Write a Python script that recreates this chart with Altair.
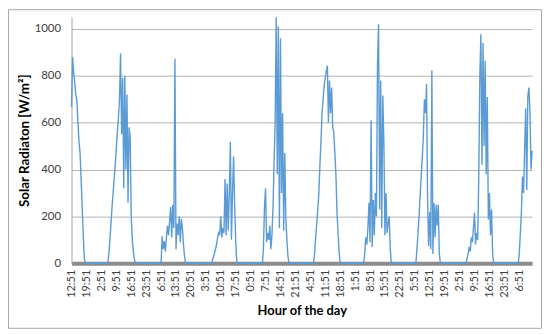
import altair as alt
import pandas as pd

# Half-hour sampled daytime segments; between segments the series stays at 0.
STEP = 0.5  # hours between samples inside a segment
day_starts = [0, 17, 42, 65.5, 89.5, 113.5, 137, 161.5, 185, 209.5]

day1 = [667, 880, 815, 770, 720, 695, 600, 520, 470, 360, 240, 120, 20, 0]
day2 = [0, 40, 100, 170, 240, 300, 360, 420, 490, 560, 620, 700, 895, 550, 790,
        320, 800, 400, 720, 258, 580, 540, 200, 100, 50, 15, 0]
day3 = [0, 115, 60, 95, 50, 110, 160, 120, 180, 240, 110, 250, 150, 872, 60,
        170, 120, 200, 90, 190, 150, 80, 30, 0]
day4 = [0, 10, 25, 40, 60, 80, 110, 130, 120, 200, 110, 150, 130, 360, 120,
        340, 140, 300, 518, 100, 300, 455, 250, 100, 0]
day5 = [0, 60, 240, 320, 90, 130, 100, 160, 60, 120, 240, 430, 600, 1050, 380,
        1010, 150, 960, 300, 640, 140, 470, 200, 100, 30, 0]
day6 = [0, 40, 110, 170, 230, 300, 420, 520, 640, 700, 760, 790, 820, 843, 600,
        780, 640, 750, 580, 560, 470, 380, 220, 130, 50, 0]
day7 = [0, 40, 110, 80, 150, 258, 90, 610, 70, 270, 120, 300, 200, 850, 1020,
        230, 780, 150, 716, 511, 120, 300, 130, 170, 200, 60, 0]
day8 = [0, 60, 130, 200, 290, 370, 450, 540, 700, 640, 765, 260, 73, 220, 60,
        822, 40, 257, 110, 250, 160, 250, 40, 0]
day9 = [0, 20, 40, 70, 50, 110, 90, 150, 215, 80, 130, 100, 370, 800, 977,
        420, 940, 500, 864, 380, 709, 186, 300, 120, 229, 40, 0]
day10 = [0, 40, 130, 220, 370, 300, 483, 660, 313, 710, 750, 650, 400, 480]

days = [day1, day2, day3, day4, day5, day6, day7, day8, day9, day10]

tick_hours = list(range(0, 211, 7))   # labelled every 7 hours, first label 12:51
y_ticks = [0, 200, 400, 600, 800, 1000]

rows = []
for start, vals in zip(day_starts, days):
    for i, v in enumerate(vals):
        rows.append({"hour": start + i * STEP, "rad": v})
df = pd.DataFrame(rows)

FONT = "Lato"

line = alt.Chart(df).mark_line(color="#5B9BD5", strokeWidth=1.4).encode(
    x=alt.X(
        "hour:Q",
        scale=alt.Scale(domain=[0, 216], nice=False, zero=False),
        axis=alt.Axis(
            values=tick_hours,
            labelExpr="floor((12 + datum.value) % 24) + ':51'",
            labelAngle=-90,
            labelFontSize=11,
            labelFont=FONT,
            labelColor="#404040",
            labelPadding=6,
            ticks=False,
            grid=False,
            domainColor="#8c8c8c",
            domainWidth=4,
            title="Hour of the day",
            titleFont=FONT,
            titleFontSize=13,
            titleFontWeight="bold",
            titleColor="#000000",
            titlePadding=7,
        ),
    ),
    y=alt.Y(
        "rad:Q",
        scale=alt.Scale(domain=[0, 1050], nice=False),
        axis=alt.Axis(
            values=y_ticks,
            format="d",
            labelFontSize=11.5,
            labelFont=FONT,
            labelColor="#404040",
            labelPadding=11,
            ticks=False,
            grid=True,
            gridColor="#b3b3b3",
            gridWidth=1,
            domainColor="#a6a6a6",
            domainWidth=1,
            title="Solar Radiaton [W/m\u00b2]",
            titleFont=FONT,
            titleFontSize=13.5,
            titleFontWeight="bold",
            titleColor="#000000",
            titlePadding=3,
        ),
    ),
)

border = alt.Chart(pd.DataFrame({"k": [0]})).mark_rect(
    fill="transparent", stroke="#a6a6a6", strokeWidth=1
).encode(
    x=alt.value(-63.5), x2=alt.value(473.5), y=alt.value(-7.5), y2=alt.value(313.5)
)

chart = alt.layer(line, border).properties(
    width=464,
    height=248,
    autosize=alt.AutoSizeParams(type="none"),
    padding={"left": 64, "top": 8, "right": 10, "bottom": 66},
).configure_view(stroke=None)

chart.save("out.html", embed_options={"renderer": "svg", "actions": False})
